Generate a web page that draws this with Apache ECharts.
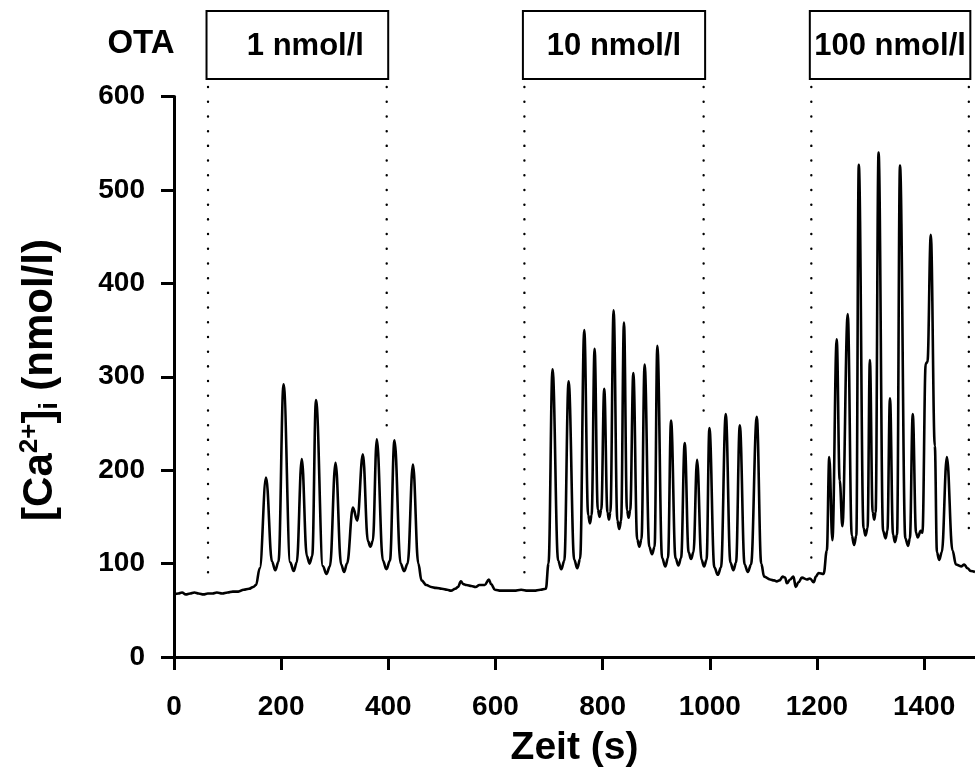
<!DOCTYPE html>
<html><head><meta charset="utf-8">
<script src="https://cdn.jsdelivr.net/npm/echarts@6/dist/echarts.min.js"></script>
<style>html,body{margin:0;padding:0;background:#fff}#chart{width:975px;height:776px}</style>
</head><body><div id="chart"></div>
<script>
// Time (s) of each sample
const timeSec = [
  0,8,15,22,30,38,46,55,63,72,80,90,100,110,120,130,140,148,153,
  160,171.8,183,189,195,204.5,217,223.5,229,238.5,248,253,258,265,278,284.5,291,301.5,312,317.5,323,
  334,342,352.5,362,366.5,371,378.5,390,396.5,403,411.5,423,429.5,436,446,456,462,471,480,489,500,510,517,525,530,
  535.5,540,546,555,563,570,580,587.5,592,599,610,622,635,648,660,672,684,694,
  699,706.5,717,722.8,728.5,736.5,747,752.7,758,765.7,773,776.3,779.5,785,791,794.3,797.5,803,809,811.8,814.5,
  820.5,827.5,831,834.5,839.8,845.5,848.5,851.5,857.3,864.5,868.5,872.5,878.4,887,892.2,897,902.1,911,917,922,
  927.7,936,941.4,946.5,953.2,960.5,965,969.5,976.3,984.5,989.4,994,999.3,1008.5,1015,1021,1029.8,1038.5,1044,1049,
  1056,1065,1071,1077,1087.7,1096,1101.5,1112.5,1120,1125,1130,1136,1140.5,1144,1150,1156,1160.5,1165.5,1172,1181,1187,1194,1198,1203,1212.5,
  1218.5,1223,1228.8,1236.9,1242.5,1247.5,1257.5,1265,1269.4,1273.5,1278.1,1287,1290.6,1294.5,1298.8,1304,1306.9,1309.5,
  1315,1323.5,1328,1331.5,1336.3,1342,1345.6,1349.5,1355,1365,1370,1373.5,1378.8,1385,1388,1393.8,1396.9,1403,1406.3,
  1412.5,1420,1424,1428,1433,1442.5,1453,1459.5,1469,1475,1481,1487.5,1495
];
// [Ca2+]i (nmol/l) of each sample
const caConc = [
  67,68,69,67,68,69,68,67,68,68,69,68,69,70,70,72,73,75,77,
  95,192,102,93,102,292,101,92,101,212,108,100,108,275,97,89,97,208,99,91,100,
  160,146,217,124,118,124,233,103,94,103,232,100,92,100,206,100,82,77,75,74,73,72,71,73,75,
  81,78,77,76,75,77,77,83,78,72,71,71,71,72,71,71,72,73,
  100,308,103,94,103,295,104,95,105,350,152,143,152,330,158,150,158,287,155,147,155,
  371,146,137,146,358,157,149,157,304,126,118,126,313,118,110,118,333,106,97,106,
  253,106,98,106,229,112,105,112,211,104,97,104,245,96,88,96,260,101,93,101,
  248,99,91,99,257,100,86,83,82,81,82,86,85,79,83,86,75,80,85,83,84,80,86,90,89,
  114,214,125,340,189,140,367,130,120,130,527,138,130,138,318,155,147,155,
  540,135,127,135,277,131,123,131,526,127,119,127,260,133,128,135,133,314,316,
  452,226,112,104,112,214,114,99,97,99,95,92,91
];
const xTickLabels = [0, 200, 400, 600, 800, 1000, 1200, 1400];
const yTickLabels = [0, 100, 200, 300, 400, 500, 600];
// OTA application periods
const periodStart = [63.5, 654, 1189.5];
const periodEnd = [397, 988.5, 1483.5];
const periodLabel = ['1 nmol/l', '10 nmol/l', '100 nmol/l'];
const dotEndLeft = [76, 77, 95];
const dotEndRight = [248, 249, 123];

const FONT = '"Liberation Sans", Arial, Helvetica, sans-serif';
const chart = echarts.init(document.getElementById('chart'), null, {renderer: 'canvas'});
chart.setOption({
  animation: false,
  backgroundColor: '#fff',
  grid: {left: 174, right: 0, top: 96.5, bottom: 119},
  xAxis: {
    type: 'value', min: 0, max: 1495, interval: 200,
    splitLine: {show: false},
    axisLine: {lineStyle: {color: '#000', width: 3}},
    axisTick: {length: 13, lineStyle: {color: '#000', width: 3}, customValues: xTickLabels},
    axisLabel: {color: '#000', fontSize: 28, fontWeight: 'bold', fontFamily: FONT, margin: 36,
      customValues: xTickLabels, formatter: v => String(v)},
    name: 'Zeit (s)', nameLocation: 'middle', nameGap: 72,
    nameTextStyle: {color: '#000', fontSize: 39, fontWeight: 'bold', fontFamily: FONT}
  },
  yAxis: {
    type: 'value', min: 0, max: 600, interval: 100,
    splitLine: {show: false},
    axisLine: {show: true, lineStyle: {color: '#000', width: 3}},
    axisTick: {show: true, length: 13, lineStyle: {color: '#000', width: 3}},
    axisLabel: {color: '#000', fontSize: 28, fontWeight: 'bold', fontFamily: FONT, margin: 29,
      customValues: yTickLabels, formatter: v => String(v)}
  },
  graphic: [
    {type: 'text', x: 141, y: 44, style: {text: 'OTA', fill: '#000', fontSize: 33, fontWeight: 'bold', fontFamily: FONT, align: 'center', verticalAlign: 'middle'}},
    {type: 'text', x: 40, y: 380, rotation: Math.PI / 2, style: {
      text: '{m|[Ca}{sup|2+}{m|]}{sub|i}{m| (nmol/l)}',
      align: 'center', verticalAlign: 'middle', fill: '#000',
      rich: {
        m: {fontSize: 42, fontWeight: 'bold', fontFamily: FONT, fill: '#000', lineHeight: 46},
        sup: {fontSize: 26, fontWeight: 'bold', fontFamily: FONT, fill: '#000', verticalAlign: 'top', lineHeight: 22},
        sub: {fontSize: 26, fontWeight: 'bold', fontFamily: FONT, fill: '#000', verticalAlign: 'bottom', lineHeight: 18}
      }
    }}
  ],
  series: [
    {
      type: 'line', data: timeSec.map((t, i) => [t, caConc[i]]),
      showSymbol: false, smooth: 0.4, smoothMonotone: 'x',
      lineStyle: {color: '#000', width: 2.6}, z: 3
    },
    {
      type: 'custom', coordinateSystem: 'cartesian2d', clip: false, z: 2,
      encode: {x: [0, 1], y: [2, 3]},
      data: periodStart.map((s, i) => [s, periodEnd[i], dotEndLeft[i], dotEndRight[i]]),
      renderItem: function (params, api) {
        const i = params.dataIndex;
        const x0 = api.coord([api.value(0), 0])[0];
        const x1 = api.coord([api.value(1), 0])[0];
        const yl = api.coord([0, api.value(2)])[1];
        const yr = api.coord([0, api.value(3)])[1];
        const top = 11, bot = 79;
        const dash = {stroke: '#000', lineWidth: 2.4, lineDash: [0.1, 14.6], lineCap: 'round', fill: null};
        return {type: 'group', children: [
          {type: 'line', shape: {x1: x0, y1: bot + 8, x2: x0, y2: yl}, style: dash},
          {type: 'line', shape: {x1: x1, y1: bot + 8, x2: x1, y2: yr}, style: dash},
          {type: 'rect', shape: {x: x0 - 1.5, y: top, width: x1 - x0 + 3, height: bot - top}, style: {fill: '#fff', stroke: '#000', lineWidth: 2}},
          {type: 'text', x: (x0 + x1) / 2 + (i === 0 ? 8 : 0), y: (top + bot) / 2 + 1, style: {text: periodLabel[i], fill: '#000', fontSize: 31, fontWeight: 'bold', fontFamily: FONT, align: 'center', verticalAlign: 'middle'}}
        ]};
      }
    }
  ]
});
</script>
</body></html>
